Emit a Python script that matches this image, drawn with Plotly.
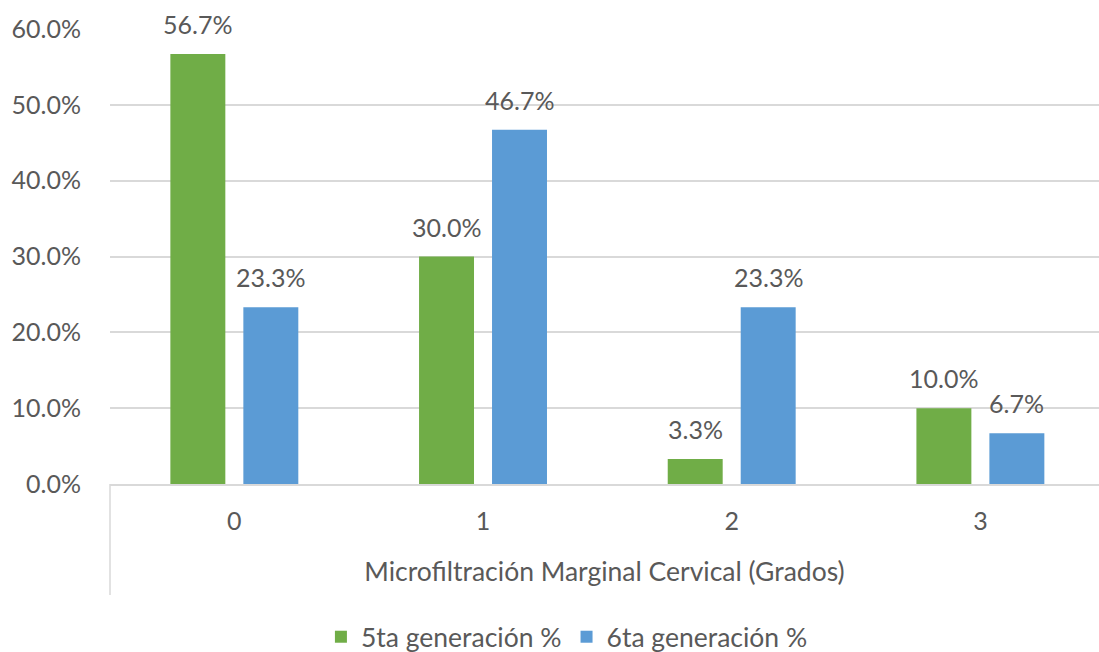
import plotly.graph_objects as go

categories = ["0", "1", "2", "3"]
gen5 = [0.567, 0.300, 0.033, 0.100]
gen6 = [0.233, 0.467, 0.233, 0.067]
series_names = ["5ta generación %", "6ta generación %"]
colors = ["#70AD47", "#5B9BD5"]
x_title = "Microfiltración Marginal Cervical (Grados)"

FONT = "Lato"
GRAY = "#595959"
FS = 25
FS_T = 26.5

BARGAP = 0.413
GROUPGAP = 0.247

fig = go.Figure()
for name, vals, col in zip(series_names, [gen5, gen6], colors):
    fig.add_trace(go.Bar(
        x=categories, y=vals, name=name, marker_color=col,
        marker_line_width=0,
    ))

# data labels placed above each bar of the grouped layout
slot = (1 - BARGAP) / 2
for s, vals in enumerate([gen5, gen6]):
    off = (s - 0.5) * slot
    for i, v in enumerate(vals):
        fig.add_annotation(x=i + off, y=v, text=f"{v*100:.1f}%", showarrow=False,
                           yanchor="middle", yshift=30,
                           font=dict(family=FONT, size=FS, color=GRAY))

fig.update_layout(
    width=1099, height=652,
    margin=dict(l=110, r=0, t=29, b=168, autoexpand=False),
    paper_bgcolor="white", plot_bgcolor="white",
    barmode="group", bargap=BARGAP, bargroupgap=GROUPGAP,
    font=dict(family=FONT, size=FS, color=GRAY),
    showlegend=True,
    legend=dict(orientation="h", x=0.462, xanchor="center", yref="container", y=0.023,
                yanchor="middle", font=dict(family=FONT, size=FS_T, color=GRAY)),
    xaxis=dict(range=[-0.5, 3.477], showgrid=False, showline=True, linecolor="#D9D9D9",
               linewidth=1.5, ticks="", ticklabelstandoff=14, automargin=False,
               tickfont=dict(family=FONT, size=FS, color=GRAY),
               title=dict(text=x_title, font=dict(family=FONT, size=FS_T, color=GRAY), standoff=29)),
    yaxis=dict(range=[0, 0.6], dtick=0.1, tickformat=".1%", showgrid=True,
               gridcolor="#D9D9D9", gridwidth=1.5, zeroline=False, showline=False,
               ticks="", ticklabelstandoff=28, automargin=False,
               tickfont=dict(family=FONT, size=FS, color=GRAY)),
)
fig.add_shape(type="line", xref="x domain", yref="paper", x0=0, x1=0, y0=0, y1=-0.244,
              line=dict(color="#D9D9D9", width=1.5))

fig.write_html("out.html")
